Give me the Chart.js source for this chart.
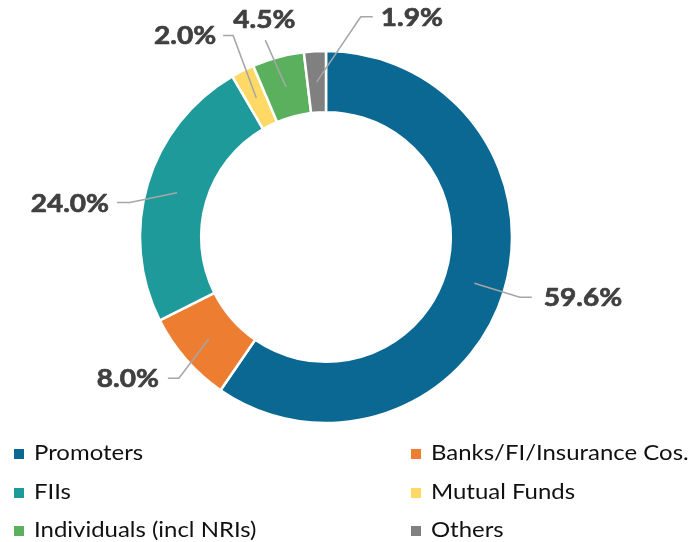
<!DOCTYPE html>
<html><head><meta charset="utf-8">
<script src="https://cdn.jsdelivr.net/npm/chart.js@4"></script>
<style>
html,body{margin:0;padding:0;background:#fff;}
#wrap{position:relative;width:691px;height:542px;}
canvas{position:absolute;left:0;top:0;}
#legend{position:absolute;left:0;top:433px;width:691px;font-family:Lato,"Open Sans",sans-serif;font-size:21px;color:#111;}
.item{position:absolute;height:38px;line-height:38px;white-space:nowrap;}
.sw{display:inline-block;width:10px;height:10px;margin-right:10px;vertical-align:1px;}
.tx{display:inline-block;transform:scaleX(1.14);transform-origin:0 50%;}
</style></head>
<body><div id="wrap"><canvas id="c" width="691" height="542"></canvas><div id="legend"></div></div>
<script>
const categories = ["Promoters","Banks/FI/Insurance Cos.","FIIs","Mutual Funds","Individuals (incl NRIs)","Others"];
const shares = [59.6, 8.0, 24.0, 2.0, 4.5, 1.9];
const valueLabels = ["59.6%","8.0%","24.0%","2.0%","4.5%","1.9%"];

const colors = ["#0a6892","#ed7d31","#1f9a9a","#ffd966","#5bb05e","#808080"];
// label placement (style): angle shift from slice middle (deg), elbow radius, side
const labelShift = [0, -2.8, -6.6, 1.9, -2.2, 12.4];
const labelRadius = [203, 204, 199, 222, 206, 223];
const labelSide = ["right","left","left","left","top","right"];
const labelTail = [12, 11, 13, 10, 0, 12];
const labelGap = [12, 9, 8, 7, 0, 8];
const stretch = 1.12;

const labelPlugin = {
  id:'leaders',
  afterDatasetsDraw(chart){
    const ctx = chart.ctx;
    const meta = chart.getDatasetMeta(0);
    ctx.save();
    ctx.font = 'bold 25px Lato, "Open Sans", sans-serif';
    meta.data.forEach((arc,i)=>{
      const p = arc.getProps(['x','y','startAngle','endAngle','innerRadius','outerRadius'], true);
      const mid = (p.startAngle + p.endAngle)/2;
      const rMid = (p.innerRadius + p.outerRadius)/2;
      const sx = p.x + rMid*Math.cos(mid), sy = p.y + rMid*Math.sin(mid);
      const la = mid + labelShift[i]*Math.PI/180;
      const ex = p.x + labelRadius[i]*Math.cos(la), ey = p.y + labelRadius[i]*Math.sin(la);
      ctx.strokeStyle = '#a6a6a6'; ctx.lineWidth = 1.5;
      ctx.beginPath(); ctx.moveTo(sx,sy); ctx.lineTo(ex,ey);
      let tx = ex;
      if (labelSide[i]==='right'){ tx = ex + labelTail[i]; ctx.lineTo(tx,ey); }
      else if (labelSide[i]==='left'){ tx = ex - labelTail[i]; ctx.lineTo(tx,ey); }
      ctx.stroke();
      ctx.fillStyle = '#404040';
      ctx.strokeStyle = '#404040'; ctx.lineWidth = 0.7; ctx.lineJoin = 'round';
      ctx.textBaseline = 'alphabetic';
      const cap = 25*0.36;
      let px, py;
      if (labelSide[i]==='right'){ ctx.textAlign='left'; px = tx+labelGap[i]; py = ey+cap; }
      else if (labelSide[i]==='left'){ ctx.textAlign='right'; px = tx-labelGap[i]; py = ey+cap; }
      else { ctx.textAlign='center'; px = ex-1; py = ey-12; }
      ctx.save(); ctx.translate(px,py); ctx.scale(stretch,1);
      ctx.fillText(valueLabels[i], 0, 0);
      ctx.strokeText(valueLabels[i], 0, 0);
      ctx.restore();
    });
    ctx.restore();
  }
};

new Chart(document.getElementById('c'), {
  type:'doughnut',
  data:{ labels:categories, datasets:[{ data:shares, backgroundColor:colors, borderColor:'#ffffff', borderWidth:2.5, hoverOffset:0 }]},
  options:{
    responsive:false, animation:false,
    radius:186, cutout:124,
    layout:{ padding:{ top:51, bottom:119, left:140, right:179 } },
    plugins:{ legend:{display:false}, tooltip:{enabled:false} }
  },
  plugins:[labelPlugin]
});

const legend = document.getElementById('legend');
const colX = [14, 411];
categories.forEach((c,i)=>{
  const d = document.createElement('div');
  d.className='item';
  d.style.left = colX[i%2]+'px';
  d.style.top = (Math.floor(i/2)*38.5)+'px';
  d.innerHTML = '<span class="sw" style="background:'+colors[i]+'"></span><span class="tx">'+c+'</span>';
  legend.appendChild(d);
});
</script></body></html>
